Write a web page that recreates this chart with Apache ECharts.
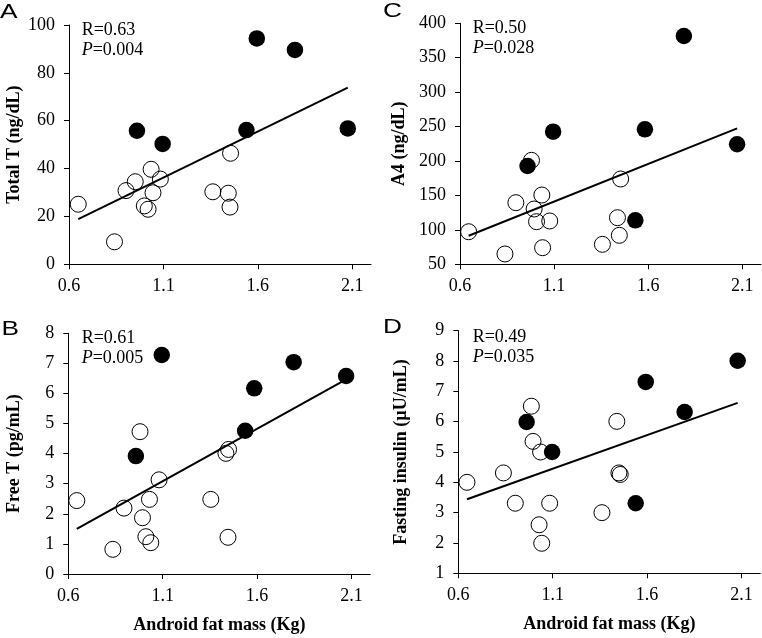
<!DOCTYPE html>
<html>
<head>
<meta charset="utf-8">
<script src="https://cdn.jsdelivr.net/npm/echarts@6/dist/echarts.min.js"></script>
<style>
html,body{margin:0;padding:0;background:#fff;}
#chart{width:762px;height:638px;}
</style>
</head>
<body>
<div id="chart"></div>
<script>
// ---- data ----
var xTickValues = [0.6, 1.1, 1.6, 2.1];
var xAxisTitle = 'Android fat mass (Kg)';

// Panel A: Total T
var aOpen = [[0.649,25.1],[0.841,9.4],[0.902,30.8],[0.951,34.5],[1.035,39.7],[1.084,35.6],[1.045,29.9],[0.999,24.4],[1.019,23.0],[1.362,30.3],[1.444,29.7],[1.453,23.9],[1.456,46.4]];
var aFilled = [[0.960,55.8],[1.096,50.3],[1.540,56.1],[1.595,94.4],[1.797,89.6],[2.077,56.8]];
var aLine = [[0.649,18.9],[2.077,73.8]];

// Panel B: Free T
var bOpen = [[0.645,2.44],[0.836,0.82],[0.895,2.19],[0.980,4.73],[0.993,1.87],[1.011,1.24],[1.037,1.04],[1.030,2.48],[1.081,3.13],[1.355,2.48],[1.435,4.01],[1.449,4.14],[1.446,1.22]];
var bFilled = [[0.958,3.92],[1.095,7.28],[1.537,4.76],[1.585,6.17],[1.794,7.04],[2.072,6.58]];
var bLine = [[0.645,1.50],[2.072,6.47]];

// Panel C: A4
var cOpen = [[0.646,97.3],[0.839,65.0],[0.897,139.5],[0.980,201],[0.994,130.3],[1.007,111.9],[1.035,150.6],[1.039,74.1],[1.077,112.9],[1.357,79.0],[1.437,117.7],[1.447,92.1],[1.454,173.9]];
var cFilled = [[0.959,192.8],[1.095,242.6],[1.532,113.9],[1.583,246],[1.790,381.5],[2.073,224.3]];
var cLine = [[0.646,91.5],[2.073,247.5]];

// Panel D: Fasting insulin
var dOpen = [[0.646,4.00],[0.839,4.31],[0.902,3.31],[0.987,6.51],[0.996,5.35],[1.028,2.60],[1.036,5.00],[1.042,1.99],[1.084,3.31],[1.361,3.00],[1.440,6.01],[1.451,4.31],[1.458,4.26]];
var dFilled = [[0.962,5.99],[1.097,5.00],[1.540,3.31],[1.593,7.31],[1.799,6.32],[2.080,8.01]];
var dLine = [[0.646,3.44],[2.080,6.62]];

var panelLetters = ['A','B','C','D'];
var yTitles = ['Total T (ng/dL)','Free T (pg/mL)','A4 (ng/dL)','Fasting insulin (\u00b5U/mL)'];
var statR = ['R=0.63','R=0.61','R=0.50','R=0.49'];
var statP = ['0.004','0.005','0.028','0.035'];
var yMin = [0, 0, 50, 1];
var yMax = [100, 8, 400, 9];
var yInterval = [20, 1, 50, 1];

// ---- layout ----
var grids = [
  {left:69,   top:25,    width:302, height:239.3},
  {left:68.3, top:333.3, width:302, height:240.7},
  {left:460,  top:23.3,  width:301, height:241},
  {left:458.3,top:330.7, width:302, height:242.6}
];
var yNameGap = [46, 45, 52, 48];
var letterPos = [[0,2],[1.5,318.7],[383,1.2],[383,317]];
var statPos = [[81.7,20.5],[81.7,328.5],[472.7,18.5],[472.7,327.5]];
var showXTitle = [false,true,false,true];

var openSets = [aOpen,bOpen,cOpen,dOpen];
var filledSets = [aFilled,bFilled,cFilled,dFilled];
var lineSets = [aLine,bLine,cLine,dLine];

var serif = 'Liberation Serif';
var xAxes = [], yAxes = [], series = [], titles = [], graphics = [];
for (var i = 0; i < 4; i++) {
  xAxes.push({
    type:'value', gridIndex:i, min:0.6, max:2.2,
    splitLine:{show:false},
    axisLine:{show:true,onZero:false,lineStyle:{color:'#000',width:1}},
    axisTick:{show:true,length:5,customValues:xTickValues,lineStyle:{color:'#000'}},
    axisLabel:{customValues:xTickValues,margin:13,color:'#000',fontFamily:serif,fontSize:18,
      formatter:function(v){return v.toFixed(1);}},
    name: showXTitle[i] ? xAxisTitle : '',
    nameLocation:'middle', nameGap:42,
    nameTextStyle:{color:'#000',fontFamily:serif,fontWeight:'bold',fontSize:18}
  });
  yAxes.push({
    type:'value', gridIndex:i, min:yMin[i], max:yMax[i], interval:yInterval[i],
    splitLine:{show:false},
    axisLine:{show:true,lineStyle:{color:'#000',width:1}},
    axisTick:{show:true,length:5,lineStyle:{color:'#000'}},
    axisLabel:{margin:14,color:'#000',fontFamily:serif,fontSize:18},
    name:yTitles[i], nameLocation:'middle', nameGap:yNameGap[i],
    nameTextStyle:{color:'#000',fontFamily:serif,fontWeight:'bold',fontSize:18}
  });
  series.push({
    type:'line', xAxisIndex:i, yAxisIndex:i, data:lineSets[i],
    showSymbol:false, symbol:'none', silent:true, z:2,
    lineStyle:{color:'#000',width:2}
  });
  series.push({
    type:'scatter', xAxisIndex:i, yAxisIndex:i, data:openSets[i],
    symbol:'circle', symbolSize:16, z:3, silent:true,
    itemStyle:{color:'rgba(0,0,0,0)',borderColor:'#000',borderWidth:1,opacity:1}
  });
  series.push({
    type:'scatter', xAxisIndex:i, yAxisIndex:i, data:filledSets[i],
    symbol:'circle', symbolSize:16.5, z:4, silent:true,
    itemStyle:{color:'#000',opacity:1}
  });
  graphics.push({
    type:'text', x:letterPos[i][0], y:letterPos[i][1], scaleX:1.25, scaleY:1, z:10,
    style:{text:panelLetters[i], x:0, y:0, fill:'#000',
      font:'normal 21px "Liberation Sans"', verticalAlign:'top', align:'left'}
  });
  titles.push({
    text:statR[i] + '\n{i|P}=' + statP[i], left:statPos[i][0], top:statPos[i][1], padding:0,
    textStyle:{fontFamily:serif,fontWeight:'normal',fontSize:18,color:'#000',lineHeight:20,
      rich:{i:{fontFamily:serif,fontStyle:'italic',fontSize:18,color:'#000',lineHeight:20}}}
  });
}

var chart = echarts.init(document.getElementById('chart'), null, {renderer:'canvas'});
chart.setOption({
  animation:false,
  backgroundColor:'#fff',
  title:titles,
  grid:grids,
  xAxis:xAxes,
  yAxis:yAxes,
  graphic:graphics,
  series:series
});
</script>
</body>
</html>
